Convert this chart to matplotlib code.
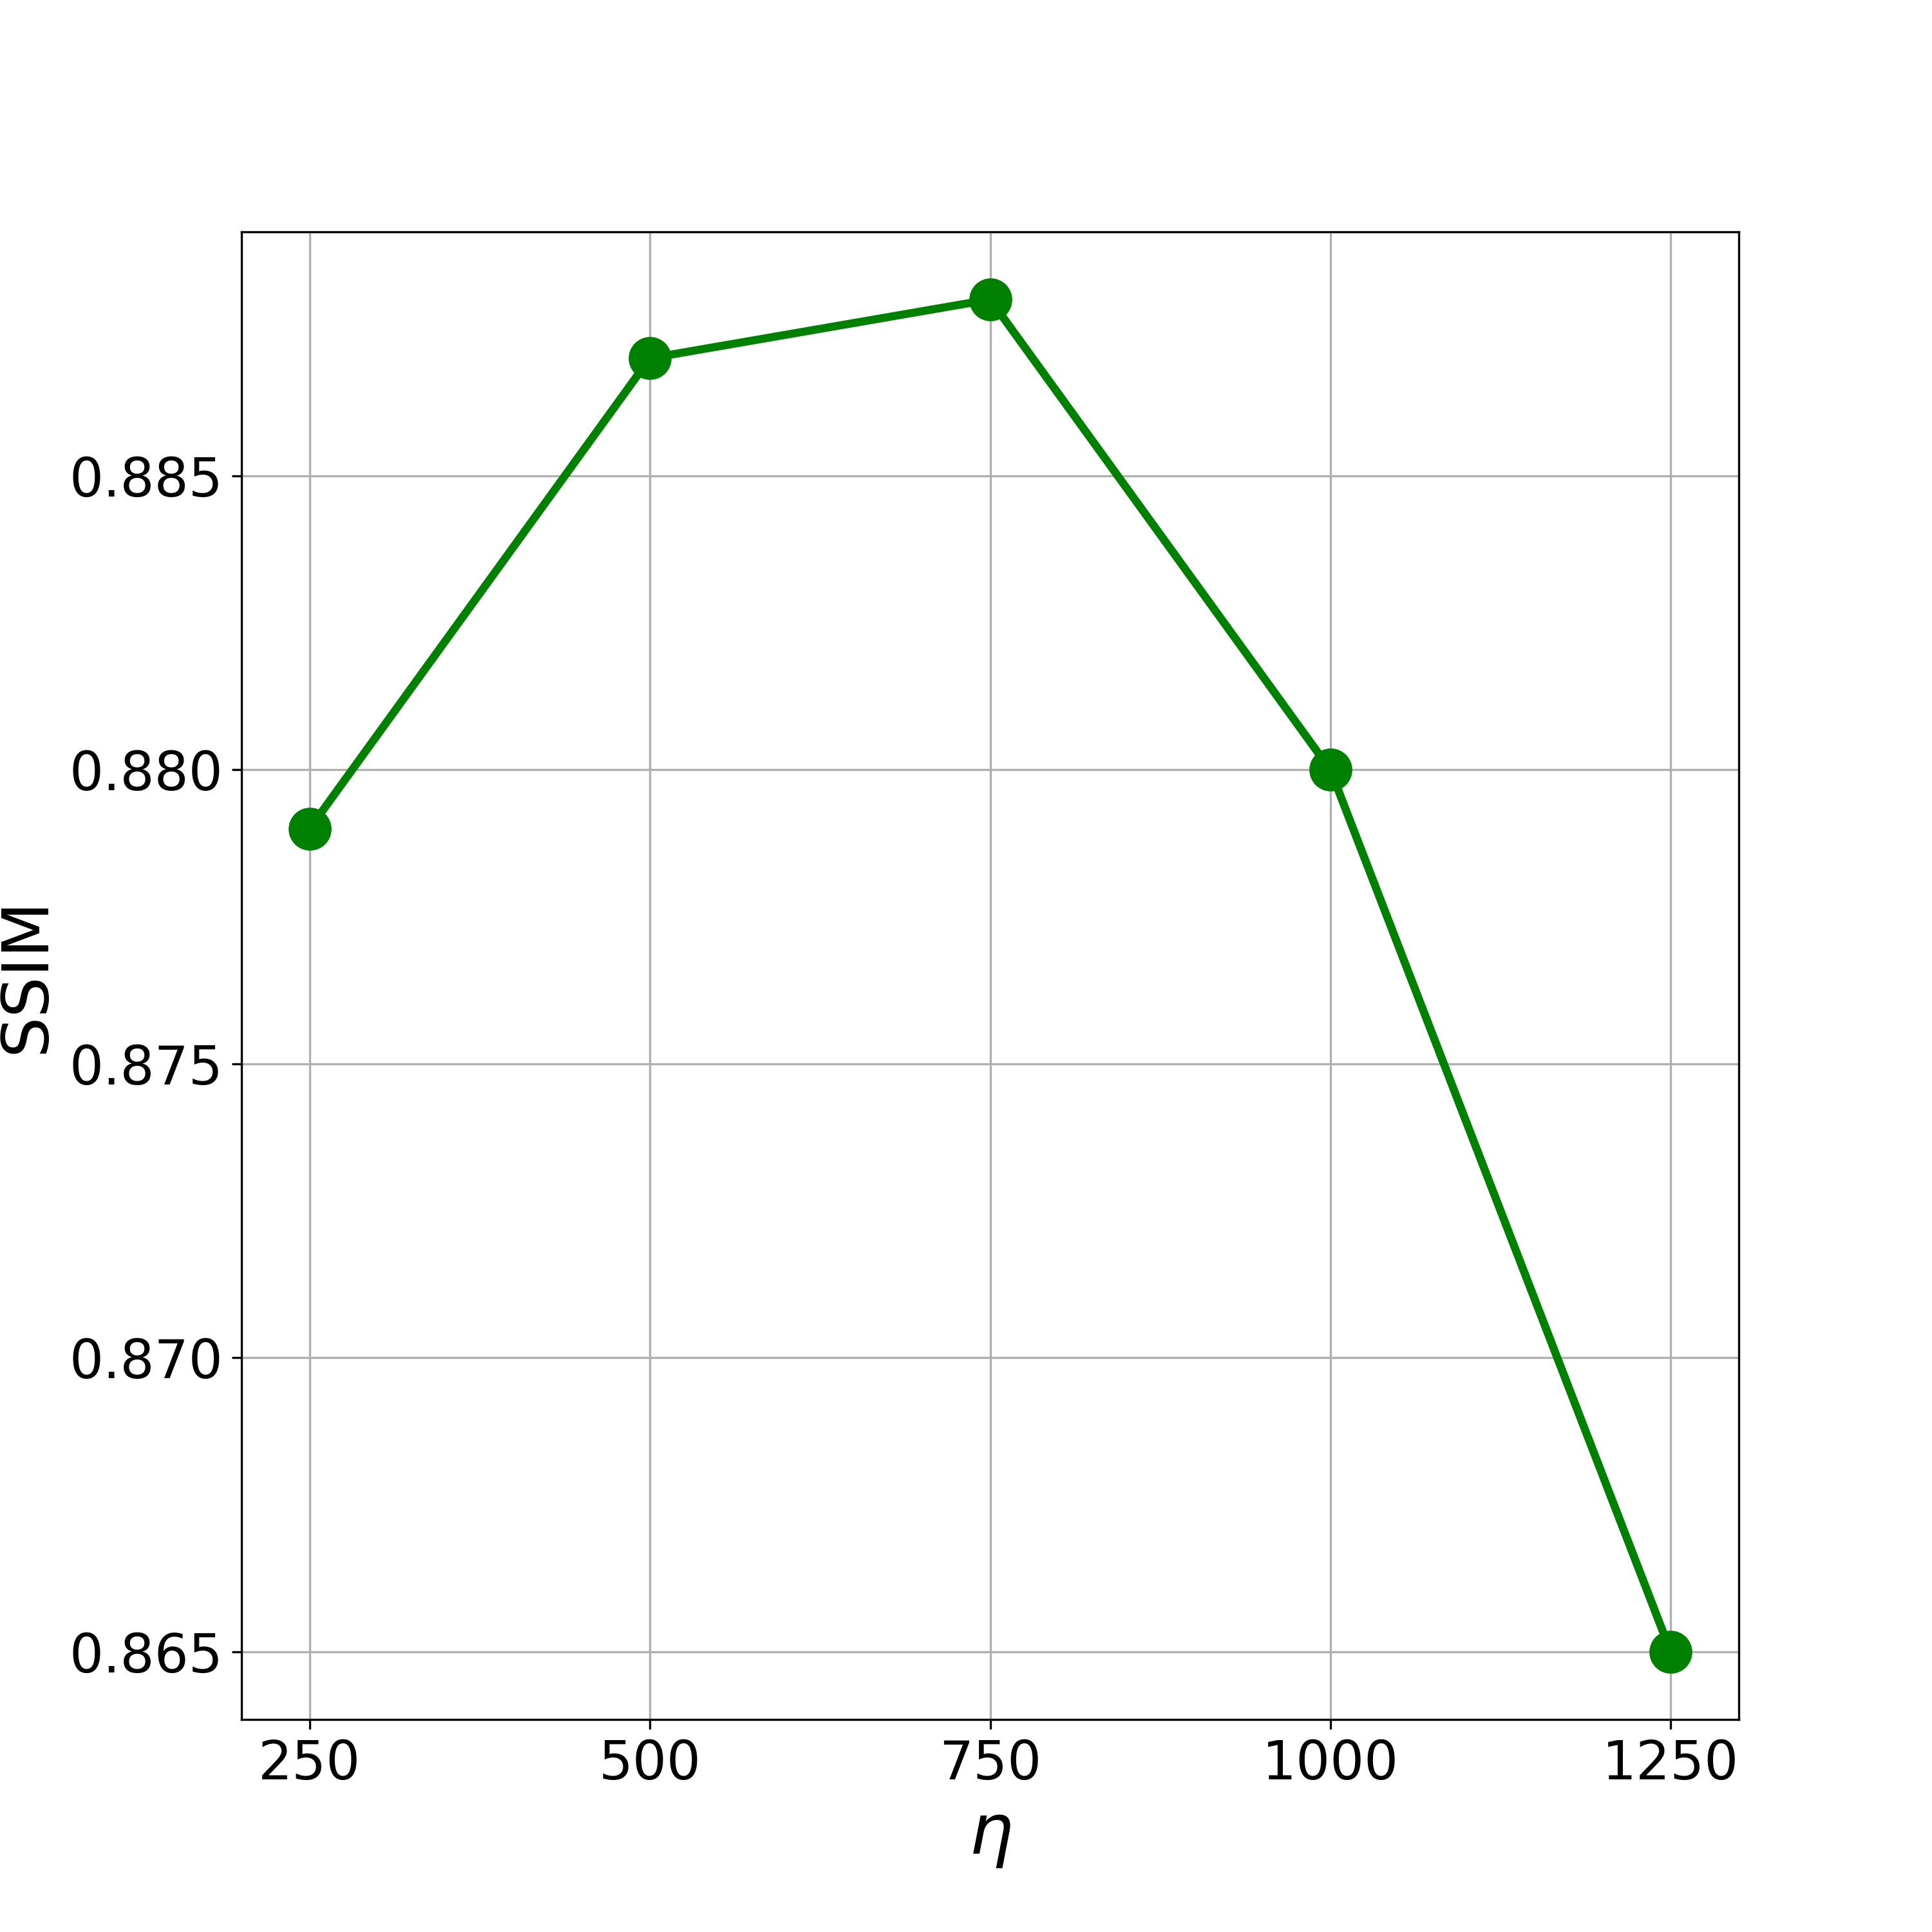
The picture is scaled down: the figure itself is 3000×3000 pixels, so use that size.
import matplotlib
matplotlib.use("Agg")
import matplotlib.pyplot as plt

eta = [250, 500, 750, 1000, 1250]
ssim = [0.879, 0.887, 0.888, 0.880, 0.865]
yticks = [0.865, 0.870, 0.875, 0.880, 0.885]

fig, ax = plt.subplots(figsize=(10, 10), dpi=300)
ax.plot(eta, ssim, color='green', marker='o', linewidth=3, markersize=15)
ax.set_xticks(eta)
ax.set_yticks(yticks)
ax.tick_params(labelsize=20)
ax.set_xlabel(r'$\eta$', fontsize=26)
ax.set_ylabel('SSIM', fontsize=24)
ax.grid(True)
fig.savefig('out.png', dpi=300)
